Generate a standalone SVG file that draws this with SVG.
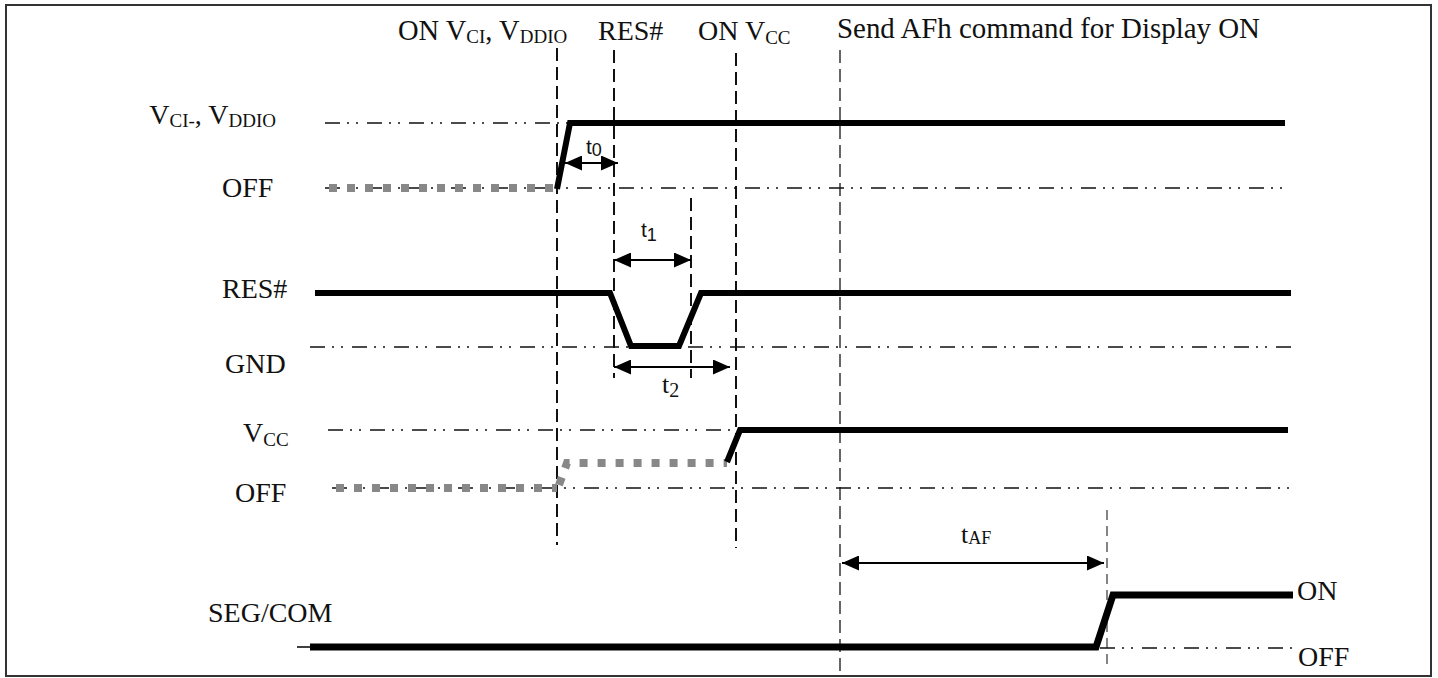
<svg xmlns="http://www.w3.org/2000/svg" width="1438" height="678" viewBox="0 0 1438 678">
<style>
.lbl{font-family:"Liberation Serif","Times New Roman",serif;font-size:28px;fill:#111}
.sub{font-size:19px}
.tl{font-family:"Liberation Sans",Arial,sans-serif;font-size:21px;fill:#111}
.ts{font-family:"Liberation Serif","Times New Roman",serif;font-size:26px;fill:#111}
.ref{stroke:#111;stroke-width:1.6;fill:none;stroke-dasharray:15 7 2 7 2 9}
.vd{stroke:#111;stroke-width:2;fill:none;stroke-dasharray:13 6}
.vg{stroke:#666;stroke-width:2;fill:none;stroke-dasharray:13 6}
.sig{stroke:#000;stroke-width:6;fill:none;stroke-linejoin:miter}
.off{stroke:#888;stroke-width:8;fill:none;stroke-dasharray:8 10}
.dim{stroke:#000;stroke-width:2;fill:none;marker-start:url(#ah);marker-end:url(#ah)}
</style>
<defs>
<marker id="ah" viewBox="0 0 17 15" refX="17" refY="7.5" markerWidth="17" markerHeight="15" markerUnits="userSpaceOnUse" orient="auto-start-reverse">
<path d="M0,0 L17,7.5 L0,15 Z" fill="#000"/>
</marker>
</defs>
<rect x="0" y="0" width="1438" height="678" fill="#fff"/>
<rect x="6" y="5" width="1425" height="671" fill="none" stroke="#333" stroke-width="2"/>

<g id="guides">
<line class="vd" x1="557" y1="48" x2="557" y2="545"/>
<line class="vd" x1="614" y1="50" x2="614" y2="378"/>
<line class="vd" x1="736" y1="53" x2="736" y2="548"/>
<line class="vg" x1="840" y1="50" x2="840" y2="673"/>
<line class="vd" x1="691" y1="198" x2="691" y2="378"/>
<line class="vg" x1="1107" y1="510" x2="1107" y2="668" style="stroke-dasharray:10 6;stroke-width:1.6"/>
<line class="ref" x1="325" y1="123" x2="570" y2="123"/>
<line class="ref" x1="325" y1="188" x2="1282" y2="188"/>
<line class="ref" x1="310" y1="347" x2="1291" y2="347"/>
<line class="ref" x1="328" y1="430" x2="736" y2="430"/>
<line class="ref" x1="332" y1="488" x2="1291" y2="488"/>
<line class="ref" x1="1100" y1="648" x2="1293" y2="648"/>
</g>

<g id="labels">
<text class="lbl" x="398" y="40" style="font-size:28.5px">ON V<tspan class="sub" dy="3">CI</tspan><tspan dy="-3">, V</tspan><tspan class="sub" dy="3">DDIO</tspan></text>
<text class="lbl" x="598" y="40">RES#</text>
<text class="lbl" x="698" y="40">ON V<tspan class="sub" dy="4">CC</tspan></text>
<text class="lbl" x="837" y="38" style="font-size:28.9px">Send AFh command for Display ON</text>
<text class="lbl" x="276" y="124" text-anchor="end">V<tspan class="sub" dy="3">CI-</tspan><tspan dy="-3">, V</tspan><tspan class="sub" dy="3">DDIO</tspan></text>
<text class="lbl" x="222" y="197">OFF</text>
<text class="lbl" x="222" y="298">RES#</text>
<text class="lbl" x="225" y="373">GND</text>
<text class="lbl" x="243" y="442">V<tspan class="sub" dy="4">CC</tspan></text>
<text class="lbl" x="235" y="502">OFF</text>
<text class="lbl" x="208" y="622">SEG/COM</text>
<text class="lbl" x="1297" y="600">ON</text>
<text class="lbl" x="1298" y="666">OFF</text>
</g>

<g id="signal-vci">
<line class="off" x1="329" y1="188" x2="557" y2="188"/>
<polyline class="sig" points="557,189 570,123 1285,123"/>
</g>

<g id="signal-res">
<polyline class="sig" points="315,293 610,293 631,346 679,346 701,293 1291,293"/>
</g>

<g id="signal-vcc">
<line class="off" x1="336" y1="488" x2="557" y2="488"/>
<polyline class="off" points="559,485 567,463 727,463"/>
<polyline class="sig" points="727,462 740,430 1288,430"/>
</g>

<g id="signal-seg">
<line x1="297" y1="647" x2="312" y2="647" stroke="#000" stroke-width="1.5"/>
<polyline class="sig" points="310,647 1096,647 1113,595 1293,595" style="stroke-width:7"/>
</g>

<g id="connectors">
<line class="dim" x1="565" y1="163" x2="618" y2="163"/>
<line class="dim" x1="614" y1="260" x2="691" y2="260"/>
<line class="dim" x1="614" y1="367" x2="730" y2="367"/>
<line class="dim" x1="842" y1="563" x2="1104" y2="563"/>
</g>

<g id="timing-labels">
<text class="tl" x="586" y="154">t<tspan dy="2" font-size="18">0</tspan></text>
<text class="tl" x="641" y="237">t<tspan dy="4" font-size="18">1</tspan></text>
<text class="ts" x="662" y="393">t<tspan dy="4" font-size="20">2</tspan></text>
<text class="ts" x="961" y="543">t<tspan dy="1" font-size="18">AF</tspan></text>
</g>
</svg>
